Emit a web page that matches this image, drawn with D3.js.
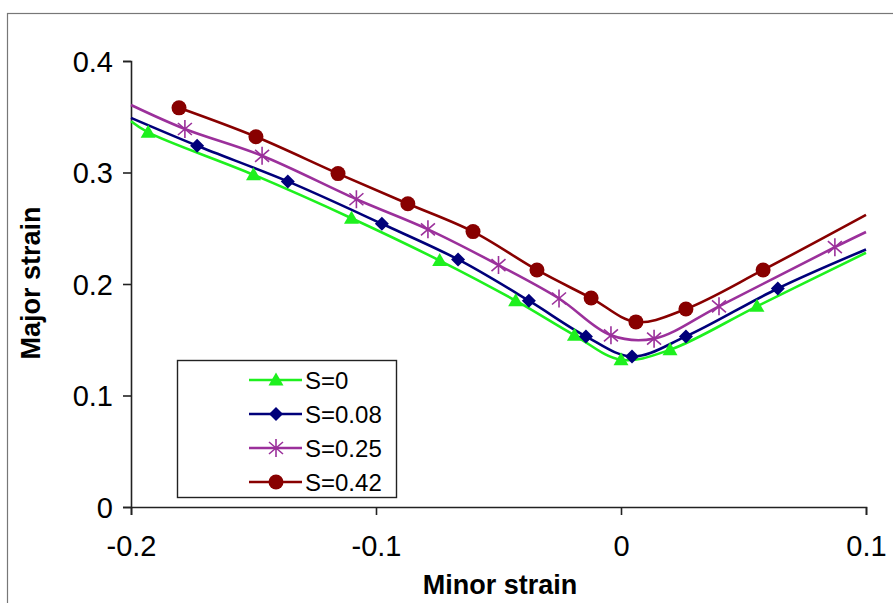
<!DOCTYPE html>
<html>
<head>
<meta charset="utf-8">
<script src="https://cdn.jsdelivr.net/npm/d3@7"></script>
<style>
  body { margin: 0; background: #fff; }
  text { font-family: "Liberation Sans", Arial, sans-serif; fill: #000; }
</style>
</head>
<body>
<svg id="chart" width="893" height="603"></svg>
<script>
// Forming limit curves: major vs minor strain for four values of S
const seriesNames = ["S=0", "S=0.08", "S=0.25", "S=0.42"];
const seriesColors = ["#1ef01e", "#00007a", "#9b309b", "#880000"];
const seriesMarkers = ["triangle", "diamond", "star", "circle"];

// Marker points (minor strain, major strain)
const s0MinorX = [-0.193, -0.150, -0.110, -0.074, -0.043, -0.019, 0.000, 0.020, 0.0555];
const s0MajorY = [0.336, 0.298, 0.259, 0.221, 0.185, 0.154, 0.132, 0.141, 0.180];

const s008MinorX = [-0.173, -0.136, -0.0976, -0.0665, -0.0376, -0.0143, 0.0045, 0.0265, 0.064];
const s008MajorY = [0.324, 0.292, 0.254, 0.222, 0.185, 0.153, 0.135, 0.153, 0.196];

const s025MinorX = [-0.178, -0.1465, -0.108, -0.0788, -0.050, -0.0253, -0.0041, 0.0135, 0.040, 0.0873];
const s025MajorY = [0.339, 0.315, 0.276, 0.249, 0.217, 0.187, 0.154, 0.151, 0.180, 0.233];

const s042MinorX = [-0.1804, -0.149, -0.1155, -0.087, -0.0604, -0.0343, -0.0122, 0.0061, 0.0265, 0.058];
const s042MajorY = [0.358, 0.332, 0.299, 0.272, 0.247, 0.2126, 0.1874, 0.166, 0.1776, 0.2126];

// Fitted curve ends (null: curve starts at its first marker)
const curveStartX = [-0.2, -0.2, -0.2, null];
const curveStartY = [0.346, 0.349, 0.3605, null];
const curveEndX = [0.1, 0.1, 0.1, 0.1];
const curveEndY = [0.228, 0.231, 0.2466, 0.262];

const xTicks = [-0.2, -0.1, 0, 0.1];
const xTickLabels = ["-0.2", "-0.1", "0", "0.1"];
const yTicks = [0, 0.1, 0.2, 0.3, 0.4];
const yTickLabels = ["0", "0.1", "0.2", "0.3", "0.4"];

const seriesX = [s0MinorX, s008MinorX, s025MinorX, s042MinorX];
const seriesY = [s0MajorY, s008MajorY, s025MajorY, s042MajorY];

const svg = d3.select("#chart");

// outer chart frame
svg.append("rect")
  .attr("x", 7.5).attr("y", 13.5).attr("width", 900).attr("height", 620)
  .attr("fill", "none").attr("stroke", "#777").attr("stroke-width", 1.2);

const x = d3.scaleLinear().domain([-0.2, 0.1]).range([131, 866]);
const y = d3.scaleLinear().domain([0, 0.4]).range([507, 61]);

// axes
const xAxis = d3.axisBottom(x).tickValues(xTicks)
  .tickFormat((d, i) => xTickLabels[i]).tickSizeOuter(0).tickSize(8).tickPadding(18);
const yAxis = d3.axisLeft(y).tickValues(yTicks)
  .tickFormat((d, i) => yTickLabels[i]).tickSizeOuter(0).tickSize(8).tickPadding(10);

const gx = svg.append("g").attr("transform", "translate(0,507)").call(xAxis);
const gy = svg.append("g").attr("transform", "translate(131,0)").call(yAxis);
[gx, gy].forEach(g => {
  g.select(".domain").attr("stroke", "#222").attr("stroke-width", 1.6);
  g.selectAll(".tick line").attr("stroke", "#222").attr("stroke-width", 1.6);
  g.selectAll(".tick text").style("font-size", "29px").attr("fill", "#000")
    .style("font-family", "'Liberation Sans', Arial, sans-serif");
});
gx.selectAll(".tick text").attr("dy", "0.8em");
gy.selectAll(".tick text").attr("dy", "0.35em");

// axis titles
svg.append("text").attr("x", 500).attr("y", 594).attr("text-anchor", "middle")
  .style("font-size", "27px").style("font-weight", "bold").text("Minor strain");
svg.append("text").attr("transform", "translate(40,283) rotate(-90)")
  .attr("text-anchor", "middle")
  .style("font-size", "27px").style("font-weight", "bold").text("Major strain");

// marker drawing
function drawMarker(g, type, color) {
  if (type === "triangle") {
    g.append("path").attr("d", "M0,-7.5 L7.5,5.5 L-7.5,5.5 Z").attr("fill", color);
  } else if (type === "diamond") {
    g.append("path").attr("d", "M0,-7 L7,0 L0,7 L-7,0 Z").attr("fill", color);
  } else if (type === "star") {
    g.append("path").attr("d", "M0,-9 L0,9 M-7,-6 L7,6 M-7,6 L7,-6")
      .attr("stroke", color).attr("stroke-width", 1.6).attr("fill", "none");
  } else {
    g.append("circle").attr("r", 7.5).attr("fill", color);
  }
}

const line = d3.line().x(d => x(d[0])).y(d => y(d[1])).curve(d3.curveCatmullRom.alpha(0.5));

const plot = svg.append("g");
seriesNames.forEach((name, i) => {
  const pts = seriesX[i].map((v, j) => [v, seriesY[i][j]]);
  const knots = (curveStartX[i] !== null ? [[curveStartX[i], curveStartY[i]]] : [])
    .concat(pts, [[curveEndX[i], curveEndY[i]]]);
  plot.append("path").datum(knots).attr("d", line)
    .attr("fill", "none").attr("stroke", seriesColors[i]).attr("stroke-width", 2.6);
});
seriesNames.forEach((name, i) => {
  seriesX[i].forEach((v, j) => {
    const g = plot.append("g").attr("transform", `translate(${x(v)},${y(seriesY[i][j])})`);
    drawMarker(g, seriesMarkers[i], seriesColors[i]);
  });
});

// legend
const legend = svg.append("g");
legend.append("rect").attr("x", 177.5).attr("y", 360.5).attr("width", 219).attr("height", 137)
  .attr("fill", "#fff").attr("stroke", "#222").attr("stroke-width", 1.4);
seriesNames.forEach((name, i) => {
  const ly = 380 + i * 34;
  legend.append("line").attr("x1", 249).attr("x2", 302).attr("y1", ly).attr("y2", ly)
    .attr("stroke", seriesColors[i]).attr("stroke-width", 2.6);
  drawMarker(legend.append("g").attr("transform", `translate(276,${ly})`), seriesMarkers[i], seriesColors[i]);
  legend.append("text").attr("x", 305).attr("y", ly).attr("dy", "0.36em")
    .style("font-size", "24px").text(name);
});
</script>
</body>
</html>
